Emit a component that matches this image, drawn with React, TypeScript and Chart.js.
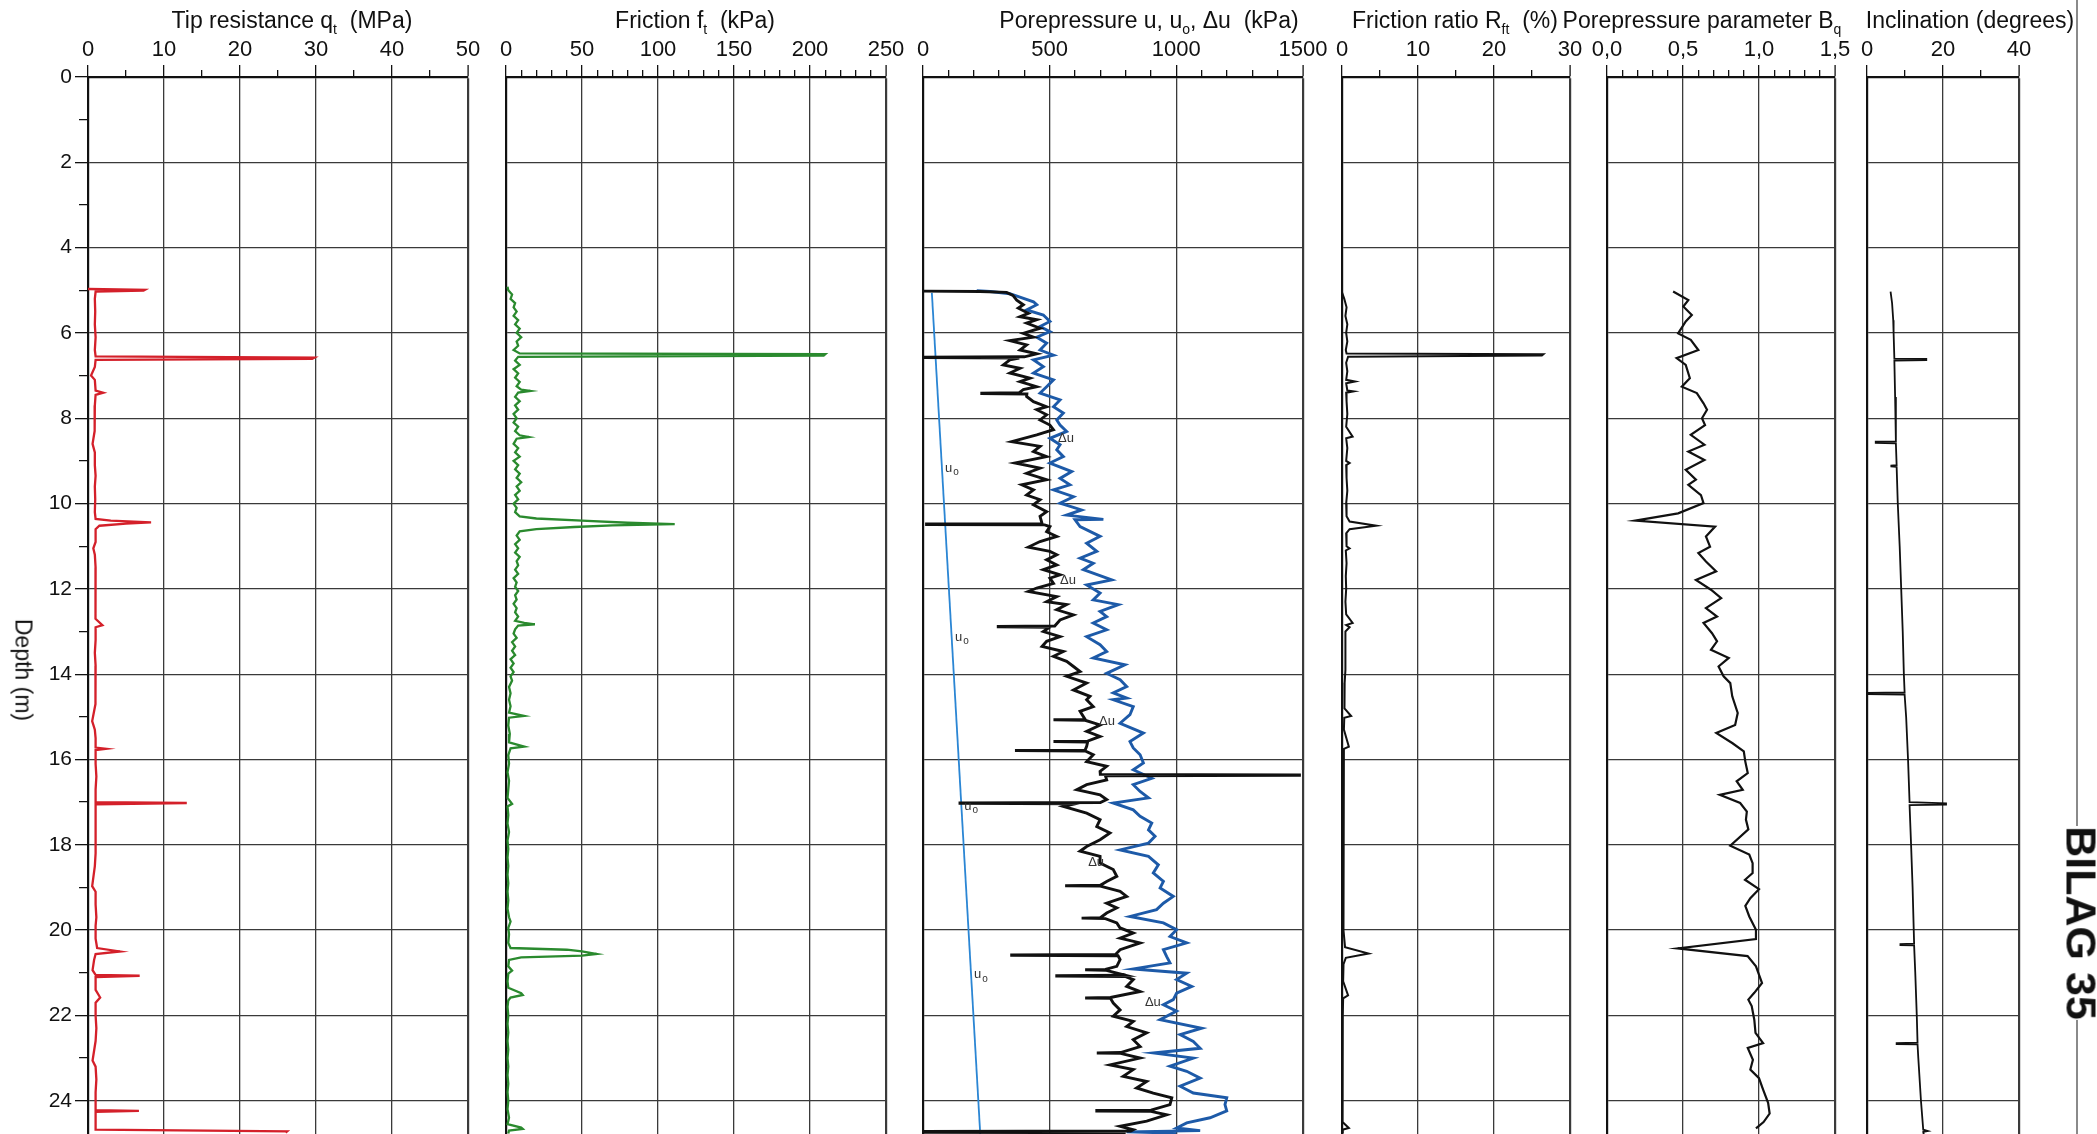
import React, { useEffect, useRef } from "react";
import { Chart, registerables } from "chart.js";

Chart.register(...registerables);

const FONT = "'Liberation Sans', Arial, Helvetica, sans-serif";
const PAGE_W = 2097;
const PAGE_H = 1134;
const AXIS_TOP = 77;
const DEPTH_MAX = 24.78;

// ---------- tick values ----------
const depthMajor = [0, 2, 4, 6, 8, 10, 12, 14, 16, 18, 20, 22, 24];
const depthMinor = [1, 3, 5, 7, 9, 11, 13, 15, 17, 19, 21, 23];

const qtMajor = [0, 10, 20, 30, 40, 50];
const qtMinor = [5, 15, 25, 35, 45];
const ftMajor = [0, 50, 100, 150, 200, 250];
const ftMinor = [10, 20, 30, 40, 60, 70, 80, 90, 110, 120, 130, 140, 160, 170, 180, 190, 210, 220, 230, 240];
const uMajor = [0, 500, 1000, 1500];
const uMinor = [100, 200, 300, 400, 600, 700, 800, 900, 1100, 1200, 1300, 1400];
const rfMajor = [0, 10, 20, 30];
const rfMinor = [5, 15, 25];
const bqMajor = [0, 0.5, 1.0, 1.5];
const bqMinor = [0.1, 0.2, 0.3, 0.4, 0.6, 0.7, 0.8, 0.9, 1.1, 1.2, 1.3, 1.4];
const bqTickLabels = ["0,0", "0,5", "1,0", "1,5"];
const incMajor = [0, 20, 40];
const incMinor = [10, 30];

// ---------- series: [depth (m), value] ----------
const qtData: [number, number][] = [
  [4.97, 0], [4.99, 7.5], [5.01, 7.3], [5.03, 1.0], [5.2, 0.9], [5.5, 0.95], [5.8, 0.9], [6.1, 1.0], [6.4, 0.9],
  [6.55, 1.0], [6.58, 29.8], [6.61, 29.5], [6.63, 1.0], [6.8, 0.9], [7.0, 0.4], [7.1, 0.9], [7.35, 1.0], [7.4, 2.0],
  [7.45, 1.0], [7.7, 0.9], [8.0, 0.85], [8.3, 0.9], [8.6, 0.6], [8.8, 0.9], [9.1, 0.9], [9.35, 1.0], [9.6, 0.9],
  [9.9, 0.95], [10.2, 0.9], [10.36, 1.0], [10.4, 3.0], [10.44, 8.3], [10.47, 5.0], [10.52, 1.5], [10.6, 1.0],
  [10.9, 1.0], [11.05, 0.7], [11.2, 0.9], [11.5, 1.0], [11.8, 0.95], [12.1, 1.0], [12.4, 1.0], [12.7, 1.0],
  [12.85, 1.9], [12.9, 1.0], [13.2, 1.0], [13.5, 0.9], [13.8, 1.0], [14.1, 1.0], [14.4, 0.95], [14.7, 1.0],
  [15.1, 0.55], [15.3, 0.9], [15.5, 1.0], [15.72, 1.0], [15.75, 2.4], [15.78, 1.0], [16.1, 1.0], [16.4, 1.1],
  [16.7, 1.0], [17.0, 1.0], [17.02, 13.0], [17.05, 1.0], [17.3, 1.0], [17.6, 1.0], [17.9, 1.0], [18.2, 1.0],
  [18.5, 0.9], [18.97, 0.55], [19.1, 1.0], [19.4, 1.0], [19.7, 1.1], [19.9, 1.0], [20.2, 1.0], [20.42, 1.2],
  [20.5, 4.2], [20.56, 1.0], [20.7, 0.8], [20.94, 0.6], [21.05, 1.0], [21.07, 6.8], [21.1, 1.0], [21.4, 1.0],
  [21.58, 1.6], [21.7, 1.0], [22.0, 1.0], [22.3, 1.1], [22.6, 1.0], [23.06, 0.6], [23.2, 1.0], [23.5, 1.1],
  [23.8, 1.0], [24.1, 1.0], [24.22, 1.0], [24.24, 6.7], [24.26, 1.0], [24.5, 1.0], [24.68, 1.0], [24.72, 26.2],
  [24.75, 26.0],
];

const ftData: [number, number][] = [
  [4.92, 1], [5.0, 1.5], [5.1, 4], [5.2, 3], [5.3, 6], [5.4, 5], [5.5, 7], [5.6, 5], [5.7, 8], [5.8, 6], [5.9, 9],
  [6.0, 7], [6.1, 10], [6.2, 7], [6.3, 8], [6.4, 5], [6.48, 9], [6.5, 210], [6.53, 209], [6.56, 8], [6.65, 6],
  [6.75, 9], [6.85, 5], [6.95, 8], [7.05, 6], [7.15, 9], [7.25, 7], [7.33, 10], [7.36, 16], [7.4, 8], [7.5, 6],
  [7.6, 9], [7.7, 6], [7.8, 8], [7.9, 5], [8.0, 7], [8.1, 5], [8.2, 8], [8.3, 6], [8.4, 9], [8.44, 15], [8.48, 7],
  [8.6, 5], [8.7, 8], [8.8, 6], [8.9, 9], [9.0, 5], [9.1, 8], [9.2, 6], [9.3, 9], [9.4, 7], [9.5, 10], [9.6, 7],
  [9.7, 9], [9.8, 6], [9.9, 8], [10.0, 5], [10.1, 7], [10.2, 6], [10.3, 9], [10.35, 20], [10.4, 50], [10.45, 80],
  [10.48, 111], [10.51, 70], [10.55, 45], [10.6, 20], [10.65, 9], [10.75, 7], [10.85, 9], [10.95, 6], [11.05, 8],
  [11.15, 6], [11.25, 9], [11.35, 7], [11.45, 8], [11.55, 6], [11.65, 8], [11.75, 5], [11.85, 7], [11.95, 6],
  [12.05, 8], [12.15, 6], [12.25, 7], [12.35, 5], [12.45, 7], [12.55, 6], [12.65, 8], [12.75, 6], [12.8, 12],
  [12.83, 19], [12.86, 8], [12.95, 6], [13.05, 5], [13.15, 7], [13.25, 4], [13.35, 6], [13.45, 4], [13.55, 6],
  [13.65, 3], [13.75, 5], [13.85, 3], [13.95, 5], [14.05, 3], [14.15, 4], [14.3, 2], [14.45, 3], [14.6, 2],
  [14.75, 3], [14.9, 2], [14.98, 12], [15.02, 2], [15.2, 1.5], [15.4, 2.5], [15.6, 2], [15.7, 12], [15.74, 3],
  [15.9, 1.5], [16.1, 2], [16.3, 1], [16.5, 2], [16.7, 1.5], [16.9, 1], [17.04, 4], [17.1, 1], [17.3, 1.5],
  [17.5, 1], [17.7, 2], [17.9, 1], [18.1, 1.5], [18.3, 1], [18.5, 1.5], [18.7, 1], [18.9, 1.5], [19.1, 1],
  [19.3, 1.5], [19.5, 1], [19.7, 2], [19.8, 3], [19.95, 1.5], [20.1, 2], [20.3, 1.5], [20.42, 3], [20.46, 40],
  [20.5, 50], [20.56, 59.6], [20.6, 50], [20.64, 10], [20.7, 2], [20.85, 1.5], [20.95, 4], [21.02, 1.5],
  [21.2, 1], [21.35, 1.5], [21.48, 10], [21.52, 11], [21.58, 3], [21.65, 1.5], [21.8, 1], [22.0, 1.5],
  [22.2, 1], [22.4, 1.5], [22.6, 1], [22.8, 1.5], [23.0, 1], [23.2, 1.5], [23.4, 1], [23.6, 1.5], [23.8, 1],
  [24.0, 1.5], [24.2, 1], [24.4, 2], [24.55, 1], [24.63, 10], [24.66, 11], [24.7, 2], [24.77, 1.5],
];

// excess pore pressure (black)
const duData: [number, number][] = [
  [5.02, 0], [5.03, 225], [5.05, 330], [5.12, 355], [5.23, 370], [5.34, 396], [5.42, 376], [5.54, 416], [5.62, 383],
  [5.69, 449], [5.77, 409], [5.89, 462], [6.01, 396], [6.10, 436], [6.18, 343], [6.28, 409], [6.40, 383],
  [6.49, 449], [6.56, 400], [6.57, 0], [6.58, 0], [6.59, 380], [6.63, 343], [6.75, 317], [6.83, 383], [6.94, 343],
  [7.06, 422], [7.14, 383], [7.26, 449], [7.33, 396], [7.40, 380], [7.41, 232], [7.42, 232], [7.43, 410],
  [7.49, 409], [7.61, 436], [7.73, 488], [7.80, 449], [7.92, 488], [8.04, 462], [8.16, 501], [8.27, 515],
  [8.39, 449], [8.55, 350], [8.66, 462], [8.78, 436], [8.90, 488], [9.05, 363], [9.17, 462], [9.29, 409],
  [9.44, 488], [9.56, 390], [9.68, 436], [9.80, 409], [9.91, 462], [10.03, 436], [10.19, 488], [10.30, 462],
  [10.47, 470], [10.48, 14], [10.49, 14], [10.50, 480], [10.54, 501], [10.66, 488], [10.77, 528], [10.89, 462],
  [11.02, 416], [11.12, 501], [11.20, 528], [11.32, 488], [11.44, 528], [11.55, 475], [11.67, 541], [11.75, 501],
  [11.87, 515], [11.98, 449], [12.06, 416], [12.18, 528], [12.30, 488], [12.37, 567], [12.49, 528], [12.61, 594],
  [12.73, 541], [12.87, 520], [12.88, 297], [12.89, 297], [12.90, 500], [13.00, 475], [13.12, 541], [13.23, 488],
  [13.35, 470], [13.47, 554], [13.58, 515], [13.70, 567], [13.82, 594], [13.94, 620], [14.05, 567], [14.21, 646],
  [14.37, 594], [14.52, 659], [14.60, 646], [14.76, 672], [14.87, 620], [15.06, 640], [15.07, 515], [15.08, 640],
  [15.19, 699], [15.34, 646], [15.46, 699], [15.57, 650], [15.58, 515], [15.59, 650], [15.69, 646], [15.78, 640],
  [15.79, 363], [15.80, 640], [15.89, 672], [16.05, 646], [16.16, 725], [16.28, 699], [16.35, 700], [16.36, 1486],
  [16.37, 1486], [16.38, 720], [16.48, 725], [16.59, 646], [16.71, 607], [16.83, 699], [16.94, 725], [17.01, 700],
  [17.02, 146], [17.03, 146], [17.04, 600], [17.10, 554], [17.26, 646], [17.41, 699], [17.57, 686], [17.72, 738],
  [17.88, 699], [18.04, 646], [18.15, 620], [18.27, 699], [18.43, 699], [18.58, 751], [18.74, 765], [18.86, 725],
  [18.95, 700], [18.96, 561], [18.97, 700], [19.09, 778], [19.21, 804], [19.37, 725], [19.48, 765], [19.60, 725],
  [19.71, 700], [19.72, 626], [19.73, 720], [19.83, 765], [19.95, 778], [20.07, 830], [20.19, 778], [20.30, 857],
  [20.46, 778], [20.57, 760], [20.58, 350], [20.59, 350], [20.60, 770], [20.69, 778], [20.85, 765], [20.92, 720],
  [20.93, 640], [20.94, 720], [21.06, 800], [21.07, 528], [21.08, 528], [21.09, 800], [21.16, 830], [21.32, 804],
  [21.44, 857], [21.58, 740], [21.59, 640], [21.60, 740], [21.71, 751], [21.87, 778], [22.02, 751], [22.14, 830],
  [22.26, 804], [22.41, 883], [22.57, 830], [22.73, 857], [22.87, 780], [22.88, 686], [22.89, 780], [23.00, 857],
  [23.16, 738], [23.27, 830], [23.43, 790], [23.55, 883], [23.70, 843], [23.82, 909], [23.93, 982], [24.09, 975],
  [24.22, 900], [24.23, 686], [24.24, 686], [24.25, 900], [24.33, 962], [24.48, 883], [24.60, 778], [24.68, 830],
  [24.71, 820], [24.72, 0], [24.74, 0], [24.75, 800],
];

// measured pore pressure (blue)
const uData: [number, number][] = [
  [5.01, 212], [5.03, 265], [5.08, 343], [5.27, 436], [5.34, 449], [5.46, 409], [5.58, 475], [5.73, 501],
  [5.85, 462], [5.97, 501], [6.10, 449], [6.24, 488], [6.40, 462], [6.52, 515], [6.63, 436], [6.79, 475],
  [6.94, 436], [7.10, 515], [7.26, 488], [7.41, 462], [7.57, 541], [7.73, 515], [7.88, 554], [8.04, 528],
  [8.16, 541], [8.31, 567], [8.47, 501], [8.62, 541], [8.74, 528], [8.90, 554], [9.05, 501], [9.25, 587],
  [9.41, 541], [9.56, 580], [9.68, 515], [9.84, 594], [9.99, 541], [10.15, 626], [10.27, 567], [10.37, 712],
  [10.38, 600], [10.54, 620], [10.77, 699], [10.93, 646], [11.12, 686], [11.28, 620], [11.40, 672], [11.55, 633],
  [11.79, 745], [11.91, 646], [12.10, 699], [12.26, 672], [12.37, 771], [12.53, 699], [12.65, 725], [12.80, 672],
  [12.96, 725], [13.12, 646], [13.31, 699], [13.47, 725], [13.62, 672], [13.78, 797], [13.98, 725], [14.13, 778],
  [14.29, 804], [14.44, 751], [14.56, 804], [14.60, 751], [14.76, 830], [14.95, 817], [15.15, 778], [15.38, 870],
  [15.58, 817], [15.73, 830], [15.89, 857], [16.08, 870], [16.24, 830], [16.44, 903], [16.59, 830], [16.75, 857],
  [16.90, 890], [17.02, 751], [17.18, 830], [17.33, 857], [17.49, 903], [17.65, 890], [17.80, 916], [17.96, 890],
  [18.12, 778], [18.27, 890], [18.47, 929], [18.66, 909], [18.86, 949], [19.01, 936], [19.21, 988], [19.37, 949],
  [19.52, 922], [19.68, 817], [19.83, 949], [19.99, 1001], [20.15, 975], [20.30, 1041], [20.46, 949], [20.62, 962],
  [20.77, 975], [20.91, 830], [21.01, 1041], [21.16, 1001], [21.32, 1061], [21.48, 1001], [21.63, 988],
  [21.75, 949], [21.90, 1001], [22.10, 936], [22.30, 1100], [22.45, 1015], [22.61, 1067], [22.77, 1094],
  [22.88, 910], [23.00, 1067], [23.19, 975], [23.31, 1041], [23.47, 1094], [23.66, 1015], [23.82, 1067],
  [23.93, 1199], [24.09, 1192], [24.24, 1199], [24.40, 1133], [24.52, 1041], [24.64, 1001], [24.70, 1094],
  [24.73, 804], [24.76, 1000],
];

// hydrostatic pore pressure u0 (thin blue line)
const u0Data: [number, number][] = [[5.06, 35], [24.78, 226]];

const rfData: [number, number][] = [
  [5.05, 0], [5.2, 0.3], [5.4, 0.6], [5.6, 0.45], [5.8, 0.7], [6.0, 0.55], [6.2, 0.7], [6.4, 0.5], [6.48, 0.6],
  [6.5, 26.5], [6.53, 26.3], [6.56, 0.8], [6.7, 0.55], [6.9, 0.7], [7.1, 0.55], [7.14, 1.7], [7.18, 0.55],
  [7.35, 0.7], [7.37, 1.5], [7.4, 0.55], [7.6, 0.6], [7.9, 0.7], [8.2, 0.55], [8.43, 1.4], [8.47, 0.55],
  [8.7, 0.7], [9.0, 0.55], [9.05, 1.0], [9.1, 0.55], [9.4, 0.6], [9.7, 0.7], [10.0, 0.55], [10.3, 0.6],
  [10.42, 1.0], [10.52, 4.5], [10.6, 1.0], [10.7, 0.55], [11.0, 0.6], [11.05, 1.0], [11.1, 0.5], [11.4, 0.6],
  [11.7, 0.5], [12.0, 0.55], [12.3, 0.45], [12.6, 0.55], [12.8, 1.4], [12.85, 0.55], [12.9, 1.0], [13.0, 0.45],
  [13.3, 0.5], [13.6, 0.4], [13.9, 0.45], [14.2, 0.35], [14.5, 0.35], [14.8, 0.3], [14.98, 1.2], [15.02, 0.3],
  [15.3, 0.25], [15.7, 0.9], [15.75, 0.25], [16.1, 0.25], [16.5, 0.2], [17.0, 0.25], [17.5, 0.2], [18.0, 0.2],
  [18.5, 0.15], [19.0, 0.2], [19.5, 0.15], [20.0, 0.15], [20.4, 0.4], [20.55, 3.5], [20.65, 0.5], [20.8, 0.2],
  [21.2, 0.15], [21.53, 0.8], [21.6, 0.15], [22.0, 0.1], [22.5, 0.1], [23.0, 0.1], [23.5, 0.05], [24.0, 0.05],
  [24.5, 0.05], [24.64, 0.9], [24.68, 0.05], [24.77, 0.1],
];

const bqData: [number, number][] = [
  [5.03, 0.435], [5.23, 0.535], [5.38, 0.502], [5.58, 0.558], [5.73, 0.518], [6.01, 0.468], [6.16, 0.551],
  [6.40, 0.601], [6.59, 0.458], [6.75, 0.518], [7.06, 0.545], [7.26, 0.492], [7.41, 0.591], [7.65, 0.635],
  [7.80, 0.658], [8.00, 0.625], [8.16, 0.645], [8.39, 0.551], [8.62, 0.641], [8.78, 0.535], [8.98, 0.641],
  [9.21, 0.518], [9.44, 0.585], [9.56, 0.535], [9.80, 0.618], [9.99, 0.635], [10.23, 0.468], [10.40, 0.186],
  [10.54, 0.711], [10.77, 0.651], [11.01, 0.678], [11.16, 0.601], [11.36, 0.651], [11.59, 0.718], [11.79, 0.585],
  [12.02, 0.684], [12.22, 0.751], [12.45, 0.651], [12.65, 0.724], [12.80, 0.635], [13.04, 0.691], [13.23, 0.724],
  [13.43, 0.684], [13.62, 0.801], [13.82, 0.734], [14.05, 0.767], [14.21, 0.811], [14.52, 0.824], [14.91, 0.86],
  [15.19, 0.843], [15.38, 0.719], [15.62, 0.826], [15.81, 0.9], [16.05, 0.91], [16.32, 0.926], [16.51, 0.853],
  [16.71, 0.893], [16.83, 0.742], [17.02, 0.876], [17.22, 0.92], [17.41, 0.914], [17.64, 0.93], [18.02, 0.811],
  [18.23, 0.936], [18.43, 0.958], [18.66, 0.958], [18.82, 0.908], [19.04, 1.0], [19.25, 0.943], [19.43, 0.91],
  [19.68, 0.936], [19.99, 0.98], [20.21, 0.98], [20.43, 0.465], [20.61, 0.925], [20.85, 0.98], [21.24, 1.02],
  [21.47, 0.969], [21.63, 0.93], [21.78, 0.952], [22.1, 0.969], [22.41, 0.977], [22.65, 1.027], [22.76, 0.926],
  [23.04, 0.96], [23.27, 0.943], [23.47, 1.0], [23.74, 1.027], [24.05, 1.06], [24.3, 1.07], [24.5, 1.03],
  [24.65, 0.98],
];

const incData: [number, number][] = [
  [5.03, 6.2], [5.3, 6.6], [5.7, 6.9], [6.0, 7.0], [6.6, 7.2], [6.61, 15.6], [6.64, 15.6], [6.65, 7.2],
  [7.5, 7.4], [8.54, 7.6], [8.55, 2.3], [8.58, 2.3], [8.59, 7.6], [9.1, 7.8], [9.11, 6.4], [9.13, 6.4],
  [9.14, 7.8], [10.0, 8.1], [11.0, 8.6], [12.0, 9.0], [13.0, 9.4], [14.0, 9.7], [14.43, 9.9], [14.44, 0.2],
  [14.47, 0.2], [14.48, 9.9], [15.0, 10.3], [16.0, 10.8], [17.0, 11.2], [17.03, 20.8], [17.06, 20.8],
  [17.07, 11.2], [18.0, 11.6], [19.0, 12.0], [20.0, 12.3], [20.32, 12.4], [20.33, 8.8], [20.35, 8.8],
  [20.36, 12.4], [21.0, 12.7], [22.0, 13.1], [22.64, 13.3], [22.65, 7.8], [22.67, 7.8], [22.68, 13.3],
  [23.0, 13.5], [24.0, 14.2], [24.68, 14.8], [24.71, 16.0], [24.73, 14.8], [24.78, 14.9],
];

// small curve labels inside the pore pressure panel: [text, subscript, value (kPa), depth (m)]
const poreLabels: [string, string, number, number][] = [
  ["\u0394u", "", 533, 8.48],
  ["u", "o", 87, 9.17],
  ["\u0394u", "", 541, 11.8],
  ["u", "o", 126, 13.14],
  ["\u0394u", "", 695, 15.1],
  ["u", "o", 163, 17.1],
  ["\u0394u", "", 652, 18.41],
  ["u", "o", 201, 21.05],
  ["\u0394u", "", 876, 21.7],
];

// ---------- panel layout ----------
type PanelSpec = {
  id: string;
  left: number;
  right: number;
  min: number;
  max: number;
  major: number[];
  minor: number[];
  labels?: string[];
  depthAxis?: boolean;
  series: { data: [number, number][]; color: string; width: number }[];
  extraPlugins?: any[];
};

const toXY = (arr: [number, number][]) => arr.map(([d, v]) => ({ x: v, y: d }));

const poreLabelPlugin = {
  id: "poreLabels",
  afterDatasetsDraw(chart: any) {
    const { ctx, scales } = chart;
    const xs = scales.x;
    const ys = scales.y;
    ctx.save();
    ctx.fillStyle = "#333";
    ctx.textBaseline = "middle";
    ctx.textAlign = "left";
    for (const [main, sub, val, dep] of poreLabels) {
      const px = xs.getPixelForValue(val);
      const py = ys.getPixelForValue(dep);
      ctx.font = `13px ${FONT}`;
      ctx.fillText(main, px, py);
      if (sub) {
        const w = ctx.measureText(main).width;
        ctx.font = `10px ${FONT}`;
        ctx.fillText(sub, px + w + 1, py + 4);
      }
    }
    ctx.restore();
  },
};

const PANELS: PanelSpec[] = [
  {
    id: "qt", left: 88, right: 468, min: 0, max: 50, major: qtMajor, minor: qtMinor, depthAxis: true,
    series: [{ data: qtData, color: "#d4202a", width: 2.3 }],
  },
  {
    id: "ft", left: 506, right: 886, min: 0, max: 250, major: ftMajor, minor: ftMinor,
    series: [{ data: ftData, color: "#2a8a2e", width: 2.3 }],
  },
  {
    id: "u", left: 923, right: 1303, min: 0, max: 1500, major: uMajor, minor: uMinor,
    series: [
      { data: duData, color: "#111111", width: 2.9 },
      { data: uData, color: "#1d5aa8", width: 2.9 },
      { data: u0Data, color: "#2b86d4", width: 1.8 },
    ],
    extraPlugins: [poreLabelPlugin],
  },
  {
    id: "rf", left: 1342, right: 1570, min: 0, max: 30, major: rfMajor, minor: rfMinor,
    series: [{ data: rfData, color: "#111111", width: 2 }],
  },
  {
    id: "bq", left: 1607, right: 1835, min: 0, max: 1.5, major: bqMajor, minor: bqMinor, labels: bqTickLabels,
    series: [{ data: bqData, color: "#111111", width: 2.2 }],
  },
  {
    id: "inc", left: 1867, right: 2019, min: 0, max: 40, major: incMajor, minor: incMinor,
    series: [{ data: incData, color: "#111111", width: 1.8 }],
  },
];

const TITLES: { center: number; main: string; sub?: string; tail?: string }[] = [
  { center: 292, main: "Tip resistance q", sub: "t", tail: "  (MPa)" },
  { center: 695, main: "Friction f", sub: "t", tail: "  (kPa)" },
  { center: 1149, main: "Porepressure u, u", sub: "o", tail: ", \u0394u  (kPa)" },
  { center: 1455, main: "Friction ratio R", sub: "ft", tail: "  (%)" },
  { center: 1702, main: "Porepressure parameter B", sub: "q" },
  { center: 1970, main: "Inclination (degrees)" },
];

const PAD = 40;
const isIn = (arr: number[], v: number) => arr.some((a) => Math.abs(a - v) < 1e-7);

function Panel({ spec }: { spec: PanelSpec }) {
  const ref = useRef<HTMLCanvasElement | null>(null);
  const canvasLeft = spec.depthAxis ? 0 : spec.left - PAD;
  const canvasW = spec.right + PAD - canvasLeft;

  useEffect(() => {
    if (!ref.current) return;
    const yAxisW = spec.depthAxis ? spec.left : 0;
    const chart = new Chart(ref.current, {
      type: "scatter",
      data: {
        datasets: spec.series.map((s) => ({
          data: toXY(s.data),
          showLine: true,
          borderColor: s.color,
          backgroundColor: s.color,
          borderWidth: s.width,
          pointRadius: 0,
          pointHoverRadius: 0,
          tension: 0,
          fill: false,
        })),
      },
      options: {
        responsive: false,
        animation: false,
        devicePixelRatio: 1,
        events: [],
        layout: { padding: { left: spec.depthAxis ? 0 : PAD, right: PAD, top: 0, bottom: 0 } },
        plugins: { legend: { display: false }, tooltip: { enabled: false }, title: { display: false } },
        scales: {
          x: {
            type: "linear",
            position: "top",
            min: spec.min,
            max: spec.max,
            afterBuildTicks: (scale: any) => {
              scale.ticks = [...spec.major, ...spec.minor]
                .sort((a, b) => a - b)
                .map((v) => ({ value: v }));
            },
            afterFit: (scale: any) => {
              scale.height = AXIS_TOP;
              scale.paddingLeft = 0;
              scale.paddingRight = 0;
            },
            ticks: {
              autoSkip: false,
              maxRotation: 0,
              minRotation: 0,
              padding: 2,
              color: "#111",
              font: { family: FONT, size: 22 },
              callback: (value: any) => {
                const idx = spec.major.findIndex((m) => Math.abs(m - value) < 1e-7);
                if (idx < 0) return "";
                return spec.labels ? spec.labels[idx] : String(spec.major[idx]);
              },
            },
            grid: {
              drawTicks: true,
              tickLength: 12,
              color: (ctx: any) => (isIn(spec.major, ctx.tick.value) ? "#3a3a3a" : "rgba(0,0,0,0)"),
              lineWidth: (ctx: any) => (Math.abs(ctx.tick.value - spec.max) < 1e-7 ? 2.2 : 1.3),
              tickColor: "#111",
              tickWidth: 1.3,
              tickBorderDash: (ctx: any) => (isIn(spec.major, ctx.tick.value) ? [] : [0, 5, 8, 60]),
            },
            border: { display: true, color: "#111", width: 2.2 },
          },
          y: {
            type: "linear",
            position: "left",
            reverse: true,
            min: 0,
            max: DEPTH_MAX,
            afterBuildTicks: (scale: any) => {
              const vals = spec.depthAxis ? [...depthMajor, ...depthMinor] : [...depthMajor];
              scale.ticks = vals.sort((a, b) => a - b).map((v) => ({ value: v }));
            },
            afterFit: (scale: any) => {
              scale.width = yAxisW;
              scale.paddingTop = 0;
              scale.paddingBottom = 0;
            },
            ticks: {
              display: !!spec.depthAxis,
              autoSkip: false,
              padding: 3,
              color: "#111",
              font: { family: FONT, size: 21 },
              callback: (value: any) => (isIn(depthMajor, value) ? String(value) : ""),
            },
            grid: {
              drawTicks: !!spec.depthAxis,
              tickLength: 13,
              color: (ctx: any) => (isIn(depthMajor, ctx.tick.value) ? "#3a3a3a" : "rgba(0,0,0,0)"),
              lineWidth: 1.3,
              tickColor: "#111",
              tickWidth: 1.3,
              tickBorderDash: (ctx: any) => (isIn(depthMajor, ctx.tick.value) ? [] : [0, 4, 9, 60]),
            },
            border: { display: true, color: "#111", width: 2.2 },
          },
        },
      } as any,
      plugins: spec.extraPlugins || [],
    });
    return () => chart.destroy();
  }, []);

  return (
    <canvas
      ref={ref}
      width={canvasW}
      height={PAGE_H}
      style={{ position: "absolute", left: canvasLeft, top: 0, width: canvasW, height: PAGE_H }}
    />
  );
}

export default function App() {
  return (
    <div
      style={{
        position: "fixed",
        left: 0,
        top: 0,
        width: PAGE_W,
        height: PAGE_H,
        background: "#ffffff",
        overflow: "hidden",
        fontFamily: FONT,
        color: "#111",
      }}
    >
      {PANELS.map((p) => (
        <Panel key={p.id} spec={p} />
      ))}
      {TITLES.map((t, i) => (
        <div
          key={i}
          style={{
            position: "absolute",
            left: t.center,
            top: 7,
            transform: "translateX(-50%)",
            fontSize: 23,
            lineHeight: "26px",
            whiteSpace: "pre",
          }}
        >
          {t.main}
          {t.sub ? (
            <sub style={{ fontSize: 14, verticalAlign: -6, lineHeight: 0 }}>{t.sub}</sub>
          ) : null}
          {t.tail || ""}
        </div>
      ))}
      <div
        style={{
          position: "absolute",
          left: 23,
          top: 670,
          transform: "translate(-50%, -50%) rotate(90deg)",
          fontSize: 23,
          whiteSpace: "nowrap",
        }}
      >
        Depth (m)
      </div>
      <div style={{ position: "absolute", left: 2076, top: 0, width: 1.5, height: PAGE_H, background: "#8a8a8a" }} />
      <div
        style={{
          position: "absolute",
          left: 2081,
          top: 923,
          transform: "translate(-50%, -50%) rotate(90deg)",
          fontSize: 43,
          lineHeight: "43px",
          fontWeight: 700,
          whiteSpace: "nowrap",
          background: "#fff",
        }}
      >
        BILAG 35
      </div>
    </div>
  );
}
